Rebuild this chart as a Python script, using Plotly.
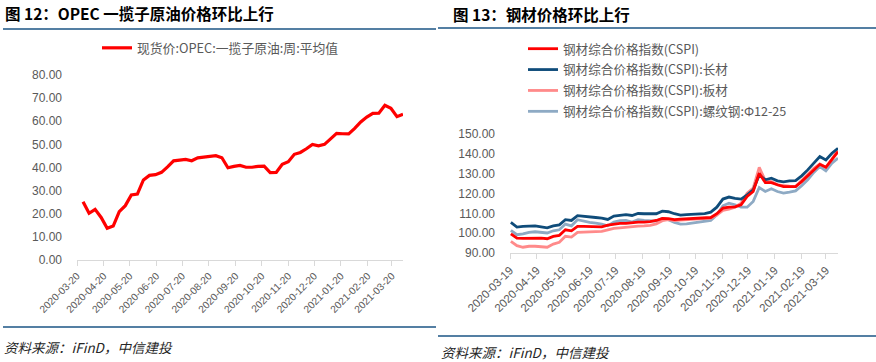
import plotly.graph_objects as go
import pandas as pd

# ---------------- data ----------------
opec_start = "2020-03-27"
opec_values = [25.2, 20.2, 21.9, 18.4, 13.7, 14.7, 20.9, 23.5, 28.1, 28.5,
               34.6, 36.6, 36.9, 37.9, 40.3, 42.9, 43.2, 43.5, 42.9, 44.2,
               44.5, 44.7, 45.1, 44.2, 39.9, 40.5, 40.9, 40.1, 40.1, 40.5,
               40.6, 37.8, 37.9, 41.4, 42.5, 45.7, 46.5, 48.1, 50.0, 49.4,
               50.0, 52.4, 54.8, 54.6, 54.5, 56.9, 59.7, 61.8, 63.4, 63.5,
               66.9, 65.6, 62.0, 63.0]
opec_ticks = ["2020-03-20", "2020-04-20", "2020-05-20", "2020-06-20", "2020-07-20",
              "2020-08-20", "2020-09-20", "2020-10-20", "2020-11-20", "2020-12-20",
              "2021-01-20", "2021-02-20", "2021-03-20"]

steel_start = "2020-03-20"
cspi_all = [99.7, 97.5, 97.4, 97.5, 97.7, 97.5, 97.2, 98.4, 98.9, 101.7,
            101.2, 103.4, 103.4, 103.4, 103.4, 103.2, 104.1, 104.6, 104.9, 104.9,
            105.3, 105.6, 105.6, 105.8, 106.4, 107.4, 107.3, 106.8, 107.1, 107.3,
            107.4, 107.6, 107.8, 107.9, 109.8, 112.6, 113.1, 113.3, 114.3, 118.5,
            121.0, 130.2, 125.5, 125.5, 124.4, 123.5, 123.5, 123.5, 126.0, 128.9,
            132.2, 134.7, 133.2, 136.9, 141.1]
cspi_long = [105.4, 103.1, 103.4, 103.6, 103.7, 103.2, 102.7, 103.7, 104.2, 106.8,
             106.4, 108.8, 108.4, 108.1, 107.9, 107.6, 106.9, 108.6, 108.9, 109.3,
             108.9, 109.9, 109.8, 109.8, 109.8, 111.1, 110.8, 109.8, 109.1, 109.3,
             109.6, 109.8, 109.9, 110.6, 113.1, 117.2, 118.2, 117.5, 117.2, 119.3,
             121.8, 129.4, 126.9, 127.7, 126.4, 125.9, 126.4, 126.5, 128.9, 131.9,
             135.3, 138.6, 136.9, 140.3, 142.8]
cspi_plate = [95.9, 93.7, 92.9, 93.4, 93.4, 93.2, 92.9, 94.5, 95.4, 98.4,
              98.0, 100.4, 100.6, 100.7, 100.9, 100.9, 101.7, 102.4, 102.7, 103.1,
              103.2, 103.6, 103.7, 103.9, 104.7, 106.3, 106.8, 106.4, 106.6, 106.8,
              106.9, 107.1, 107.3, 107.6, 109.1, 111.5, 112.1, 113.1, 115.1, 120.2,
              122.7, 133.2, 126.5, 126.0, 124.4, 123.9, 123.7, 123.5, 126.4, 129.4,
              132.7, 134.9, 133.2, 137.4, 142.0]
cspi_rebar = [101.4, 99.2, 99.6, 100.4, 100.7, 100.4, 100.1, 101.2, 101.7, 104.6,
              103.7, 106.8, 105.9, 105.4, 105.1, 104.6, 103.7, 105.6, 106.3, 106.4,
              105.6, 106.8, 106.4, 106.4, 106.1, 107.4, 106.8, 105.4, 104.6, 104.7,
              105.1, 105.6, 105.9, 106.4, 109.3, 113.8, 115.1, 114.3, 113.1, 113.1,
              116.0, 123.0, 121.0, 122.4, 121.0, 120.2, 120.7, 121.3, 123.9, 126.9,
              130.6, 133.6, 131.4, 135.3, 137.8]
steel_ticks = ["2020-03-19", "2020-04-19", "2020-05-19", "2020-06-19", "2020-07-19",
               "2020-08-19", "2020-09-19", "2020-10-19", "2020-11-19", "2020-12-19",
               "2021-01-19", "2021-02-19", "2021-03-19"]

names = ["钢材综合价格指数(CSPI)", "钢材综合价格指数(CSPI):长材",
         "钢材综合价格指数(CSPI):板材", "钢材综合价格指数(CSPI):螺纹钢:Φ12-25"]
colors = ["#FF0000", "#0F4C7A", "#FF8A8A", "#8EAAC4"]

opec_dates = pd.date_range(opec_start, periods=len(opec_values), freq="7D")
steel_dates = pd.date_range(steel_start, periods=len(cspi_all), freq="7D")

W, H = 876, 362
def px(x): return x / W
def py(y): return 1 - y / H

fig = go.Figure()
fig.add_trace(go.Scatter(x=opec_dates, y=opec_values, mode="lines",
                         name="现货价:OPEC:一揽子原油:周:平均值",
                         line=dict(color="#FF0000", width=3.2),
                         xaxis="x", yaxis="y", legend="legend"))
series = [cspi_all, cspi_long, cspi_plate, cspi_rebar]
for rank in [3, 2, 1, 0]:  # draw rebar first, composite on top
    fig.add_trace(go.Scatter(x=steel_dates, y=series[rank], mode="lines",
                             name=names[rank], line=dict(color=colors[rank], width=2.8),
                             legendgroup=f"g{rank}", legendrank=rank + 1,
                             xaxis="x2", yaxis="y2", legend="legend2"))

tickfont = dict(family="Liberation Sans, Arial, sans-serif", size=12, color="#595959")
xcommon = dict(type="date", showgrid=False, showline=True, linecolor="#D9D9D9",
               linewidth=1, ticks="outside", ticklen=5, tickcolor="#D9D9D9",
               tickangle=-45, automargin=False, zeroline=False)
ycommon = dict(showgrid=False, zeroline=False, showline=False, ticks="",
               tickformat=".2f", tickfont=tickfont, ticklabelstandoff=14,
               automargin=False)

fig.update_layout(
    width=W, height=H, margin=dict(l=0, r=0, t=0, b=0, autoexpand=False),
    paper_bgcolor="white", plot_bgcolor="white", showlegend=True,
    xaxis=dict(domain=[px(77), px(403)], anchor="y",
               range=[opec_ticks[0], opec_dates[-1]],
               tickvals=opec_ticks, ticktext=opec_ticks,
               tickfont=dict(family="Liberation Sans, Arial, sans-serif",
                             size=10.2, color="#595959"), **xcommon),
    yaxis=dict(domain=[py(260), py(75)], anchor="x", range=[0, 80], dtick=10,
               **ycommon),
    xaxis2=dict(domain=[px(510), px(838)], anchor="y2",
                range=[steel_ticks[0], steel_dates[-1]],
                tickvals=steel_ticks, ticktext=steel_ticks,
                tickfont=dict(family="Liberation Sans, Arial, sans-serif",
                              size=11.5, color="#595959"), **xcommon),
    yaxis2=dict(domain=[py(253), py(134)], anchor="x2", range=[90, 150], dtick=10,
                **ycommon),
    legend=dict(x=px(97), y=py(33), xanchor="left", yanchor="top",
                orientation="h", bgcolor="rgba(0,0,0,0)",
                font=dict(family="Noto Sans CJK SC", size=12.8, color="#595959")),
    legend2=dict(x=px(523), y=py(34), xanchor="left", yanchor="top",
                 orientation="v", bgcolor="rgba(0,0,0,0)",
                 traceorder="grouped", tracegroupgap=1.5,
                 font=dict(family="Noto Sans CJK SC", size=12.6, color="#595959")),
)

sep = "#1B5585"
fig.add_shape(type="line", xref="paper", yref="paper", x0=px(3), x1=px(436),
              y0=py(29), y1=py(29), line=dict(color=sep, width=1.5))
fig.add_shape(type="line", xref="paper", yref="paper", x0=px(438), x1=px(876),
              y0=py(28), y1=py(28), line=dict(color=sep, width=1.5))
fig.add_shape(type="line", xref="paper", yref="paper", x0=px(3), x1=px(436),
              y0=py(327), y1=py(327), line=dict(color=sep, width=1.5))
fig.add_shape(type="line", xref="paper", yref="paper", x0=px(438), x1=px(876),
              y0=py(336), y1=py(336), line=dict(color=sep, width=1.5))

titlefont = dict(family="Noto Sans CJK SC", size=15.5, color="#000000")
fig.add_annotation(text="<b>图 12：OPEC 一揽子原油价格环比上行</b>", x=px(3), y=py(13),
                   xref="paper", yref="paper", xanchor="left", yanchor="middle",
                   showarrow=False, font=titlefont)
fig.add_annotation(text="<b>图 13：钢材价格环比上行</b>", x=px(451), y=py(14),
                   xref="paper", yref="paper", xanchor="left", yanchor="middle",
                   showarrow=False, font=titlefont)
footfont = dict(family="Noto Sans CJK SC", size=13.5, color="#262626")
fig.add_annotation(text="<i>资料来源：iFinD，中信建投</i>", x=px(2), y=py(347),
                   xref="paper", yref="paper", xanchor="left", yanchor="middle",
                   showarrow=False, font=footfont)
fig.add_annotation(text="<i>资料来源：iFinD，中信建投</i>", x=px(439), y=py(352),
                   xref="paper", yref="paper", xanchor="left", yanchor="middle",
                   showarrow=False, font=footfont)

fig.write_html("out.html", config={"displayModeBar": False},
               post_script="document.body.style.margin='0';document.body.style.padding='0';")
